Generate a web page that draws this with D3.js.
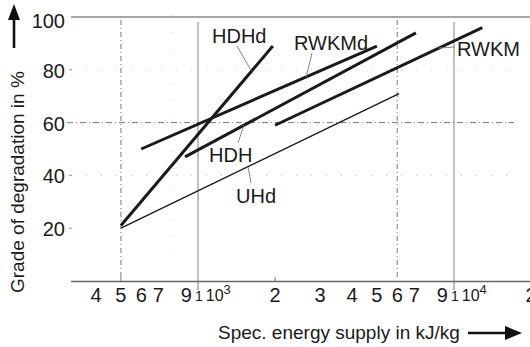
<!DOCTYPE html>
<html>
<head>
<meta charset="utf-8">
<script src="https://cdn.jsdelivr.net/npm/d3@7"></script>
<style>
  html, body { margin: 0; padding: 0; background: #fff; }
  svg { display: block; font-family: "Liberation Sans", Arial, Helvetica, sans-serif; }
</style>
</head>
<body>
<svg id="chart" width="530" height="347"></svg>
<script>
// Degradation grade versus specific energy supply (log scale)
const xMinorTicks = [400, 500, 600, 700, 900, 2000, 3000, 4000, 5000, 6000, 7000, 9000, 20000];
const xMinorLabels = ["4", "5", "6", "7", "9", "2", "3", "4", "5", "6", "7", "9", "2"];
const xDecades = [1000, 10000];
const xDecadeExponents = ["3", "4"];
const yTicks = [20, 40, 60, 80, 100];

// Each curve: start and end point [kJ/kg, %]
const HDHd  = [[500, 21], [1960, 89]];
const RWKMd = [[600, 50], [5000, 89]];
const HDH   = [[890, 47], [7100, 94]];
const RWKM  = [[2000, 59], [12900, 96]];
const UHd   = [[500, 20], [6100, 71]];

const seriesNames = ["HDHd", "RWKMd", "HDH", "RWKM", "UHd"];
const seriesData = [HDHd, RWKMd, HDH, RWKM, UHd];

const svg = d3.select("#chart");

const x = d3.scaleLog().domain([1000, 10000]).range([198, 454]);
const y = d3.scaleLinear().domain([0, 100]).range([281, 17]);

const left = 71, right = 530;

// grid: solid decades, dash-dot reference lines, faint dotted helpers
const grid = svg.append("g");
grid.selectAll("line.dec").data(xDecades).join("line")
  .attr("x1", d => x(d)).attr("x2", d => x(d))
  .attr("y1", 22).attr("y2", 290)
  .attr("stroke", "#a8a8a8").attr("stroke-width", 1.5);

grid.selectAll("line.vdd").data([500, 6000]).join("line")
  .attr("x1", d => x(d)).attr("x2", d => x(d))
  .attr("y1", 20).attr("y2", 278)
  .attr("stroke", "#777").attr("stroke-width", 1)
  .attr("stroke-dasharray", "5,3,1,3");

grid.append("line")
  .attr("x1", 67).attr("x2", 514)
  .attr("y1", y(60)).attr("y2", y(60))
  .attr("stroke", "#777").attr("stroke-width", 1)
  .attr("stroke-dasharray", "6,3,1,3");

grid.selectAll("line.hdot").data([80, 40]).join("line")
  .attr("x1", left).attr("x2", 514)
  .attr("y1", d => y(d)).attr("y2", d => y(d))
  .attr("stroke", "#c4c4c4").attr("stroke-width", 1)
  .attr("stroke-dasharray", "1,14");

grid.selectAll("line.vdot").data([800]).join("line")
  .attr("x1", d => x(d)).attr("x2", d => x(d))
  .attr("y1", 15).attr("y2", 270)
  .attr("stroke", "#c4c4c4").attr("stroke-width", 1)
  .attr("stroke-dasharray", "1,16");

// frame lines: top (100 %) and x axis
svg.append("line")
  .attr("x1", left).attr("x2", right)
  .attr("y1", y(100)).attr("y2", y(100))
  .attr("stroke", "#888").attr("stroke-width", 1.3);

svg.append("line")
  .attr("x1", left).attr("x2", right)
  .attr("y1", 281.5).attr("y2", 281.5)
  .attr("stroke", "#666").attr("stroke-width", 1.3);

// small ticks on x axis
svg.selectAll("line.xt").data([500, 2000]).join("line")
  .attr("x1", d => x(d)).attr("x2", d => x(d))
  .attr("y1", 277).attr("y2", 281)
  .attr("stroke", "#777").attr("stroke-width", 1);

// y tick labels
svg.append("g").selectAll("text").data(yTicks).join("text")
  .attr("x", 65).attr("y", d => y(d) + (d === 100 ? 4 : 1))
  .attr("text-anchor", "end").attr("dominant-baseline", "central")
  .attr("font-size", 20).attr("fill", "#1a1a1a")
  .text(d => d);

svg.append("g").selectAll("line").data(yTicks.slice(0, 4)).join("line")
  .attr("x1", 69).attr("x2", 72)
  .attr("y1", d => y(d)).attr("y2", d => y(d))
  .attr("stroke", "#999").attr("stroke-width", 1);

// x tick labels
svg.append("g").selectAll("text").data(xMinorTicks).join("text")
  .attr("x", d => x(d)).attr("y", 302)
  .attr("text-anchor", "middle")
  .attr("font-size", 20).attr("fill", "#1a1a1a")
  .text((d, i) => xMinorLabels[i]);

// decade labels written as "1 10^n"
const dec = svg.append("g").selectAll("text").data(xDecades).join("text")
  .attr("x", d => x(d) - 3).attr("y", 301)
  .attr("font-size", 14).attr("fill", "#1a1a1a");
dec.append("tspan").text("1");
dec.append("tspan").attr("dx", 3).attr("font-size", 16).text("10");
dec.append("tspan").attr("dy", -7).attr("font-size", 13).text((d, i) => xDecadeExponents[i]);

// curves
const line = d3.line().x(d => x(d[0])).y(d => y(d[1]));
svg.append("g").selectAll("path").data(seriesData).join("path")
  .attr("d", line)
  .attr("fill", "none")
  .attr("stroke", "#1a1a1a")
  .attr("stroke-width", (d, i) => seriesNames[i] === "UHd" ? 1.4 : 3)
  .attr("stroke-linecap", "butt");

// curve labels with leader lines: position along curve (t) and label placement
const labelSpec = {
  HDHd:  { t: 0.86, lx: 237, ly: 46,  tx: 212, ty: 43 },
  RWKMd: { t: 0.70, lx: 312, ly: 53,  tx: 294, ty: 50 },
  HDH:   { t: 0.255, lx: 238, ly: 143, tx: 209, ty: 162 },
  RWKM:  { t: 0.79, lx: 455, ly: 47,  tx: 457, ty: 56 },
  UHd:   { t: 0.457, lx: 251, ly: 183, tx: 236, ty: 203 }
};

const labels = svg.append("g");
seriesNames.forEach((name, i) => {
  const s = labelSpec[name];
  const pts = seriesData[i];
  const x0 = x(pts[0][0]), y0 = y(pts[0][1]);
  const x1 = x(pts[1][0]), y1 = y(pts[1][1]);
  const px = x0 + (x1 - x0) * s.t, py = y0 + (y1 - y0) * s.t;
  labels.append("line")
    .attr("x1", px).attr("y1", py).attr("x2", s.lx).attr("y2", s.ly)
    .attr("stroke", "#777").attr("stroke-width", 0.9);
  labels.append("text")
    .attr("x", s.tx).attr("y", s.ty)
    .attr("font-size", 20).attr("fill", "#1a1a1a")
    .text(name);
});

// axis titles with arrows
svg.append("text")
  .attr("transform", "translate(24,293) rotate(-90)")
  .attr("font-size", 19).attr("fill", "#1a1a1a")
  .text("Grade of degradation in %");

svg.append("line")
  .attr("x1", 14).attr("x2", 14).attr("y1", 48).attr("y2", 16)
  .attr("stroke", "#111").attr("stroke-width", 2.6);
svg.append("path")
  .attr("d", "M14,4 L20,20 L8,20 Z")
  .attr("fill", "#111");

svg.append("text")
  .attr("x", 218).attr("y", 339)
  .attr("font-size", 19).attr("fill", "#1a1a1a")
  .text("Spec. energy supply in kJ/kg");

svg.append("line")
  .attr("x1", 468).attr("x2", 508).attr("y1", 333).attr("y2", 333)
  .attr("stroke", "#111").attr("stroke-width", 2.6);
svg.append("path")
  .attr("d", "M522,333 L505,326 L505,340 Z")
  .attr("fill", "#111");
</script>
</body>
</html>
